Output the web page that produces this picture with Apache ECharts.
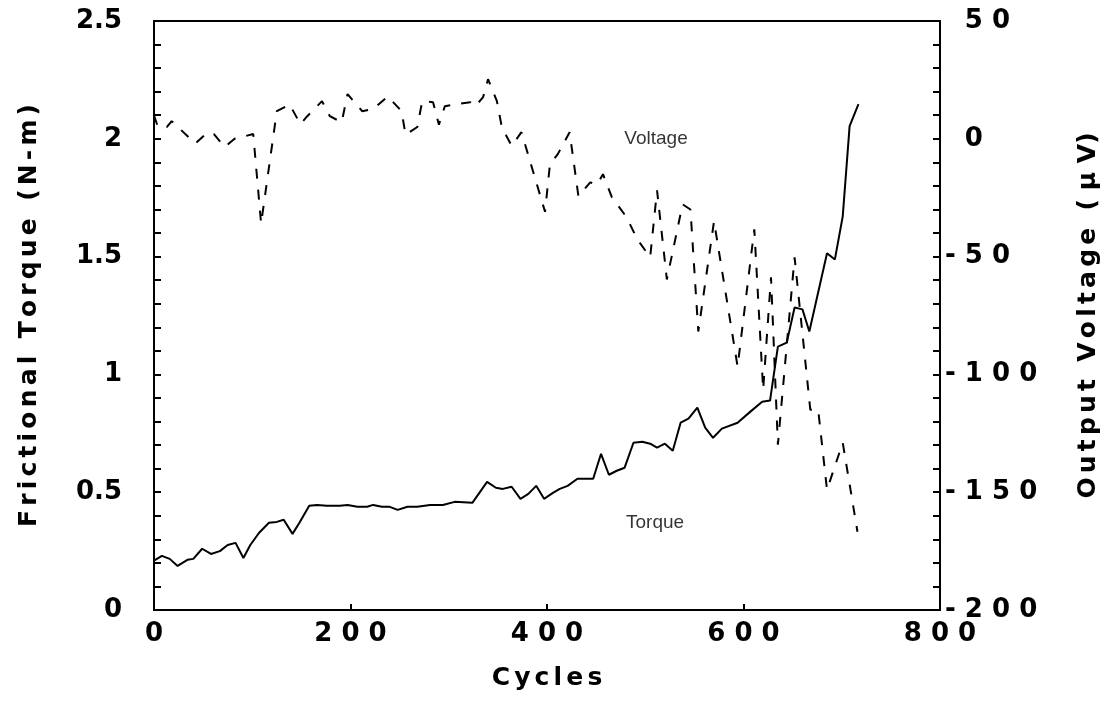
<!DOCTYPE html>
<html>
<head>
<meta charset="utf-8">
<script src="https://cdn.jsdelivr.net/npm/echarts@6/dist/echarts.min.js"></script>
<style>
  html, body { margin: 0; padding: 0; background: #fff; }
  #main { width: 1111px; height: 721px; }
</style>
</head>
<body>
<div id="main"></div>
<script>
// values
const torqueCycles = [0, 8, 16, 24, 34, 40, 49, 58, 67, 75, 83, 91, 98, 107, 117, 125, 132, 141, 148, 158,
  166, 176, 189, 197, 207, 217, 223, 232, 240, 248, 258, 268, 281, 294, 306, 324, 339, 348, 355, 364,
  373, 381, 389, 397, 406, 413, 421, 431, 447, 455, 463, 471, 479, 488, 497, 505, 512, 520, 528, 536,
  544, 553, 561, 569, 578, 594, 607, 619, 627, 635, 644, 652, 660, 667, 685, 693, 701, 708, 717];
const torqueValues = [0.21, 0.23, 0.217, 0.187, 0.213, 0.217, 0.26, 0.238, 0.25, 0.276, 0.285, 0.221, 0.276, 0.328, 0.37, 0.374, 0.383, 0.323, 0.37, 0.442,
  0.446, 0.442, 0.442, 0.446, 0.438, 0.438, 0.446, 0.438, 0.438, 0.425, 0.438, 0.438, 0.446, 0.446, 0.459, 0.455, 0.544, 0.519, 0.514, 0.523,
  0.472, 0.493, 0.527, 0.472, 0.497, 0.514, 0.527, 0.557, 0.557, 0.663, 0.574, 0.591, 0.604, 0.71, 0.714, 0.706, 0.689, 0.706, 0.676, 0.795,
  0.812, 0.859, 0.774, 0.731, 0.77, 0.795, 0.842, 0.884, 0.889, 1.118, 1.135, 1.284, 1.276, 1.182, 1.514, 1.488, 1.671, 2.054, 2.147];

const voltageCycles = [0, 4, 13, 18, 42, 54, 61, 72, 82, 101, 109, 125, 138, 149, 156, 171, 179, 191, 197, 212,
  223, 238, 252, 256, 268, 273, 284, 290, 296, 306, 322, 327, 335, 340, 349, 354, 364, 374, 398, 403,
  411, 423, 432, 444, 451, 457, 466, 481, 492, 505, 512, 522, 538, 546, 554, 570, 594, 611, 620, 628,
  635, 652, 668, 676, 685, 701, 716];
const voltageValues = [10, 5, 5, 7.5, -2, 2.5, 2, -3.5, 0, 2, -36, 11.7, 14.6, 6.2, 9.6, 16, 9.6, 7, 19, 11.7,
  12.6, 18, 11.7, 1.7, 5, 16, 15.5, 6, 13.8, 14.6, 15.5, 13.8, 17.7, 25.3, 16, 5, -3, 2.8, -31, -10.8,
  -6.5, 2.8, -24.4, -18.5, -19.3, -15, -24.8, -33.3, -42.7, -50.3, -21.9, -59.7, -27.8, -30, -81.8, -35, -96.7, -38.4, -106.5, -58.8,
  -129.8, -50.3, -115, -115, -149, -129, -166.8];

const notes = [
  { name: 'Voltage', value: [511, 2.0] },
  { name: 'Torque', value: [510, 0.37] }
];

const FONT = 'DejaVu Sans';
const NS = '\u2006';
// tick numbers: wide gaps between digits, none round the point
function spacedNum(v) {
  const s = String(v);
  let out = '';
  for (let i = 0; i < s.length; i++) {
    out += s[i];
    if (i < s.length - 1 && s[i] !== '.' && s[i + 1] !== '.') out += ' ';
  }
  return out;
}
function spacedWord(s) { return s.split('').join(NS); }

const torqueData = torqueCycles.map((c, i) => [c, torqueValues[i]]);
const voltageData = voltageCycles.map((c, i) => [c, voltageValues[i]]);

const labelStyle = { color: '#000', fontFamily: FONT, fontWeight: 'bold', fontSize: 26 };
const nameStyle = { color: '#000', fontFamily: FONT, fontWeight: 'bold', fontSize: 25 };

const chart = echarts.init(document.getElementById('main'));
chart.setOption({
  animation: false,
  backgroundColor: '#fff',
  grid: { left: 154, right: 171, top: 21, bottom: 111, show: true, borderColor: '#000', borderWidth: 2 },
  xAxis: {
    type: 'value', min: 0, max: 800, interval: 200,
    name: spacedWord('Cycles'), nameLocation: 'middle', nameGap: 56, nameTextStyle: nameStyle,
    axisLine: { lineStyle: { color: '#000', width: 2 } },
    axisTick: { inside: true, length: 6, lineStyle: { color: '#000', width: 2 } },
    splitLine: { show: false },
    axisLabel: Object.assign({ margin: 11, formatter: v => spacedNum(v) }, labelStyle)
  },
  yAxis: [
    {
      type: 'value', min: 0, max: 2.5, interval: 0.5, position: 'left',
      name: spacedWord('Frictional') + '  ' + spacedWord('Torque') + '  ' + spacedWord('(N-m)'),
      nameLocation: 'middle', nameGap: 112, nameRotate: 90, nameTextStyle: nameStyle,
      axisLine: { lineStyle: { color: '#000', width: 2 } },
      axisTick: { inside: true, length: 7, lineStyle: { color: '#000', width: 2 } },
      minorTick: { show: true, splitNumber: 5, length: 7, lineStyle: { color: '#000', width: 2 } },
      splitLine: { show: false },
      axisLabel: Object.assign({ margin: 32, formatter: v => spacedNum(v) }, labelStyle)
    },
    {
      type: 'value', min: -200, max: 50, interval: 50, position: 'right',
      name: spacedWord('Output') + '  ' + spacedWord('Voltage') + '  ( μ V)',
      nameLocation: 'middle', nameGap: 136, nameRotate: 90, nameTextStyle: nameStyle,
      axisLine: { lineStyle: { color: '#000', width: 2 } },
      axisTick: { inside: true, length: 7, lineStyle: { color: '#000', width: 2 } },
      minorTick: { show: true, splitNumber: 5, length: 7, lineStyle: { color: '#000', width: 2 } },
      splitLine: { show: false },
      axisLabel: Object.assign({
        margin: 5, align: 'left',
        formatter: v => v < 0 ? spacedNum(v) : '{h|- }' + spacedNum(v),
        rich: { h: { color: 'rgba(0,0,0,0)', fontFamily: FONT, fontWeight: 'bold', fontSize: 26 } }
      }, labelStyle)
    }
  ],
  series: [
    {
      name: 'Torque', type: 'line', yAxisIndex: 0, data: torqueData,
      symbol: 'none', lineStyle: { color: '#000', width: 2 }
    },
    {
      name: 'Voltage', type: 'line', yAxisIndex: 1, data: voltageData,
      symbol: 'none', lineStyle: { color: '#000', width: 2, type: [10, 11] }
    },
    {
      name: 'notes', type: 'scatter', yAxisIndex: 0, data: notes,
      symbolSize: 0, silent: true,
      label: {
        show: true, position: 'inside', formatter: p => p.name,
        color: '#000', fontFamily: 'Liberation Sans', fontSize: 19
      }
    }
  ]
});
</script>
</body>
</html>
